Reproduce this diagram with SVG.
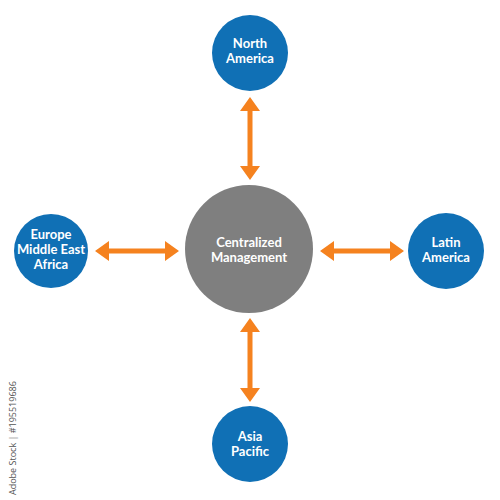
<svg xmlns="http://www.w3.org/2000/svg" width="500" height="500" viewBox="0 0 500 500">
<defs>
<style>
.region{fill:#1070b5}
.hub{fill:#7f7f7f}
.lbl{fill:#ffffff;font-family:Lato,"Open Sans","Liberation Sans",sans-serif;font-weight:bold;font-size:13px;text-anchor:middle}
.arrow{fill:#f5821f}
.wm{fill:#555555;font-family:"Open Sans","Liberation Sans",sans-serif;font-size:9px}
</style>
</defs>
<rect width="500" height="500" fill="#ffffff"/>
<g id="connectors">
<polygon class="arrow" points="250,97 260,111 252.5,111 252.5,166 260,166 250,180 240,166 247.5,166 247.5,111 240,111"/>
<polygon class="arrow" points="250,318 260,332 252.5,332 252.5,388 260,388 250,402 240,388 247.5,388 247.5,332 240,332"/>
<polygon class="arrow" points="95,251 109,241 109,248.5 165,248.5 165,241 179,251 165,261 165,253.5 109,253.5 109,261"/>
<polygon class="arrow" points="320,251 334,241 334,248.5 390,248.5 390,241 404,251 390,261 390,253.5 334,253.5 334,261"/>
</g>
<g id="hub">
<circle class="hub" cx="249" cy="249" r="64"/>
<text class="lbl" x="249" y="247">Centralized</text>
<text class="lbl" x="249" y="262">Management</text>
</g>
<g id="north-america">
<circle class="region" cx="250" cy="53" r="38"/>
<text class="lbl" x="250" y="48">North</text>
<text class="lbl" x="250" y="63">America</text>
</g>
<g id="emea">
<circle class="region" cx="51" cy="251" r="37"/>
<text class="lbl" x="51" y="239">Europe</text>
<text class="lbl" x="51" y="254">Middle East</text>
<text class="lbl" x="51" y="269">Africa</text>
</g>
<g id="latin-america">
<circle class="region" cx="446" cy="251" r="38"/>
<text class="lbl" x="446" y="247">Latin</text>
<text class="lbl" x="446" y="262">America</text>
</g>
<g id="asia-pacific">
<circle class="region" cx="250" cy="444" r="38"/>
<text class="lbl" x="250" y="441">Asia</text>
<text class="lbl" x="250" y="456">Pacific</text>
</g>
<text class="wm" transform="translate(16,495) rotate(-90)">Adobe Stock | #195519686</text>
</svg>
